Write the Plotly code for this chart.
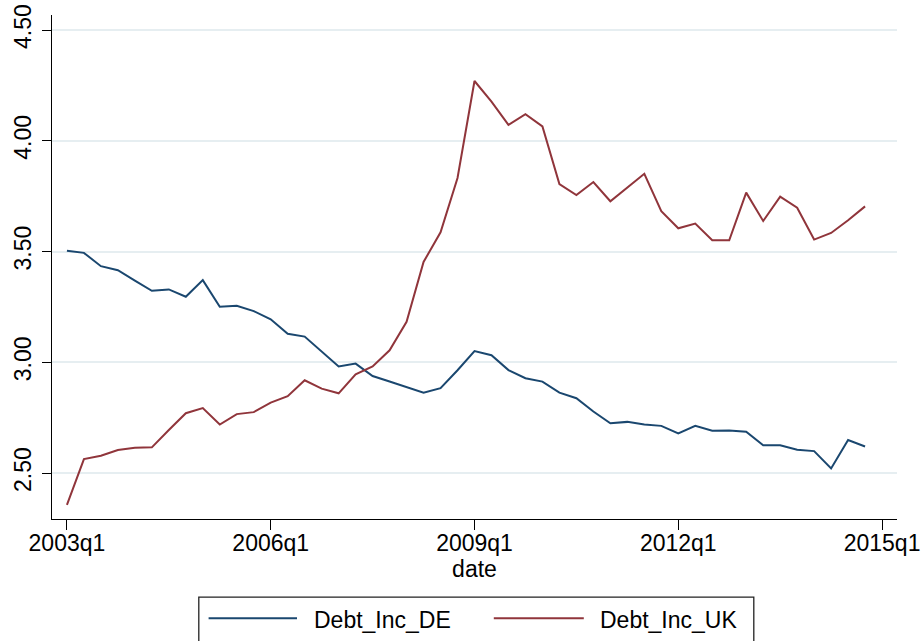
import plotly.graph_objects as go

# ---------------- data ----------------
quarters = [f"{y}q{q}" for y in range(2003, 2015) for q in range(1, 5)]

debt_inc_de = [3.504, 3.494, 3.434, 3.416, 3.369, 3.323, 3.329, 3.296,
               3.371, 3.251, 3.255, 3.231, 3.194, 3.129, 3.116, 3.048,
               2.981, 2.994, 2.938, 2.913, 2.889, 2.863, 2.883, 2.964,
               3.051, 3.032, 2.965, 2.928, 2.913, 2.863, 2.838, 2.778,
               2.725, 2.731, 2.719, 2.713, 2.679, 2.713, 2.691, 2.692,
               2.686, 2.625, 2.625, 2.605, 2.599, 2.521, 2.649, 2.620]

debt_inc_uk = [2.356, 2.563, 2.578, 2.604, 2.614, 2.616, 2.694, 2.770,
               2.793, 2.719, 2.766, 2.775, 2.818, 2.847, 2.919, 2.881,
               2.860, 2.946, 2.981, 3.054, 3.183, 3.453, 3.587, 3.832,
               4.270, 4.177, 4.072, 4.120, 4.065, 3.805, 3.755, 3.814,
               3.727, 3.790, 3.851, 3.682, 3.605, 3.626, 3.551, 3.551,
               3.766, 3.638, 3.748, 3.698, 3.554, 3.584, 3.641, 3.704]

x_tick_labels = ["2003q1", "2006q1", "2009q1", "2012q1", "2015q1"]
y_tick_values = [2.5, 3.0, 3.5, 4.0, 4.5]
y_tick_labels = ["2.50", "3.00", "3.50", "4.00", "4.50"]

series_names = ["Debt_Inc_DE", "Debt_Inc_UK"]
series_colors = ["#1a476f", "#90353b"]


def q_index(label):
    y, q = label.split("q")
    return (int(y) - 2003) * 4 + int(q) - 1


x_vals = [q_index(q) for q in quarters]
x_tick_vals = [q_index(t) for t in x_tick_labels]

FONT = "Arial, 'Liberation Sans', sans-serif"
FS = 23

fig = go.Figure()
for name, vals, col in zip(series_names, [debt_inc_de, debt_inc_uk], series_colors):
    fig.add_trace(go.Scatter(
        x=x_vals, y=vals, mode="lines", name=name,
        line=dict(color=col, width=2),
        customdata=quarters,
        hovertemplate="%{customdata}: %{y:.3f}<extra>" + name + "</extra>",
    ))

# page geometry (body margin is removed by the post script)
W, H = 924, 641
# plot area in page pixels
L, R, T, B = 51.7, 896.7, 15.0, 519.3
pw, ph = R - L, B - T


def px(xp):
    return (xp - L) / pw


def py(yp):
    return (B - yp) / ph


shapes = []
annotations = []
# legend box (manual, Stata style)
shapes.append(dict(type="rect", xref="paper", yref="paper",
                   x0=px(198.5), x1=px(753.5), y0=py(660), y1=py(597.5),
                   line=dict(color="#222222", width=1.3), fillcolor="white",
                   layer="above"))
legend_items = [
    (208.3, 296.7, 311.5),
    (493.5, 583.5, 597.5),
]
for (lx0, lx1, tx), name, col in zip(legend_items, series_names, series_colors):
    shapes.append(dict(type="line", xref="paper", yref="paper",
                       x0=px(lx0), x1=px(lx1), y0=py(618.5), y1=py(618.5),
                       line=dict(color=col, width=2), layer="above"))
    annotations.append(dict(text=name, xref="paper", yref="paper",
                            x=px(tx), y=py(620), xanchor="left", yanchor="middle",
                            showarrow=False, font=dict(size=FS, color="black", family=FONT)))

fig.update_layout(
    width=W, height=H,
    margin=dict(l=L, r=W - R, t=T, b=H - B, pad=0, autoexpand=False),
    paper_bgcolor="white", plot_bgcolor="white",
    showlegend=False,
    font=dict(family=FONT, size=FS, color="black"),
    shapes=shapes,
    annotations=annotations,
    xaxis=dict(
        range=[-0.88, 48.88],
        tickvals=x_tick_vals, ticktext=x_tick_labels,
        ticks="outside", ticklen=10, tickwidth=1.3, tickcolor="black",
        showline=True, linecolor="black", linewidth=1.3,
        showgrid=False, zeroline=False, automargin=False,
        tickfont=dict(size=FS),
        ticklabelstandoff=-7,
        ticklabeloverflow="allow",
        title=dict(text="date", font=dict(size=FS), standoff=0),
    ),
    yaxis=dict(
        range=[2.2925, 4.568],
        tickvals=y_tick_values, ticktext=y_tick_labels,
        tickangle=-90,
        ticks="outside", ticklen=9, tickwidth=1.3, tickcolor="black",
        showline=True, linecolor="black", linewidth=1.3,
        showgrid=True, gridcolor="#e6eef1", gridwidth=1.6,
        zeroline=False, automargin=False,
        tickfont=dict(size=FS),
        ticklabelstandoff=2,
        ticklabeloverflow="allow",
    ),
)

fig.write_html(
    "out.html",
    config={"displayModeBar": False},
    post_script="document.body.style.margin='0px';document.body.style.overflow='hidden';",
)
